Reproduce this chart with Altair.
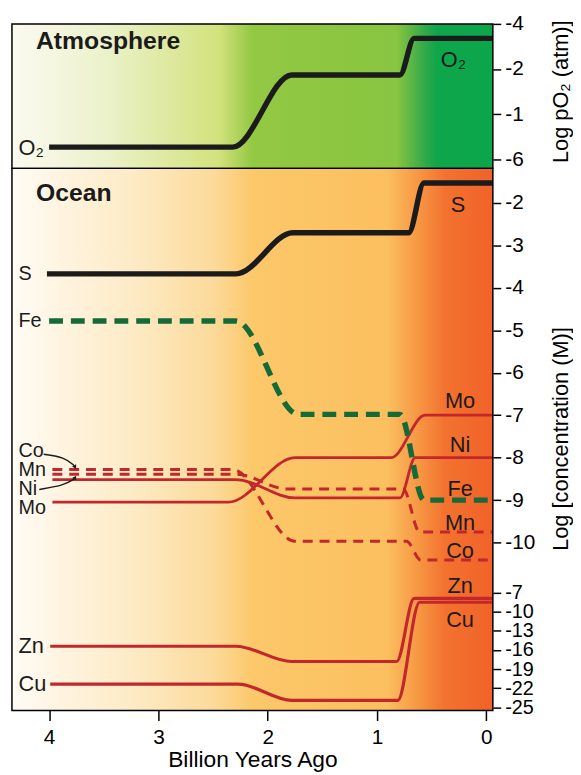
import altair as alt
import pandas as pd

FONT = "Liberation Sans"
BLACK = "#1b1b1b"
RED = "#c1272d"
GREEN = "#156b37"

# ---------------- data ----------------
X_LEFT, X_RIGHT = 4.34, -0.06
x_ticks = [4, 3, 2, 1, 0]

# Atmosphere (axis positions 0..3 carry the printed labels below)
atm_tick_pos = [0, 1, 2, 3]
atm_tick_labels = ["-6", "-1", "-2", "-4"]
o2_age = [4.0, 2.32, 1.78, 0.79, 0.66, -0.06]
o2_val = [0.27, 0.27, 1.87, 1.87, 2.68, 2.68]

# Ocean, upper scale: Log [concentration (M)]
ocean_ticks = [-2, -3, -4, -5, -6, -7, -8, -9, -10]
s_age = [4.02, 2.29, 1.77, 0.71, 0.57, -0.06]
s_val = [-3.67, -3.67, -2.70, -2.70, -1.53, -1.53]
fe_age = [4.0, 2.29, 1.72, 0.79, 0.57, -0.06]
fe_val = [-4.78, -4.78, -6.98, -6.98, -9.0, -9.0]
mo_age = [3.97, 2.36, 1.75, 0.87, 0.56, -0.06]
mo_val = [-9.05, -9.05, -8.0, -8.0, -7.0, -7.0]
ni_age = [3.97, 2.29, 1.75, 0.79, 0.65, -0.06]
ni_val = [-8.52, -8.52, -8.95, -8.95, -8.0, -8.0]
mn_age = [3.97, 2.29, 1.82, 0.76, 0.61, -0.06]
mn_val = [-8.39, -8.39, -8.74, -8.74, -9.75, -9.75]
co_age = [3.97, 2.32, 1.75, 0.73, 0.60, -0.06]
co_val = [-8.28, -8.28, -9.97, -9.97, -10.41, -10.41]

# Ocean, lower scale (Zn, Cu)
low_ticks = [-7, -10, -13, -16, -19, -22, -25]
zn_age = [3.99, 2.29, 1.78, 0.82, 0.66, -0.06]
zn_val = [-15.4, -15.4, -17.8, -17.8, -7.9, -7.9]
cu_age = [3.99, 2.27, 1.78, 0.81, 0.61, -0.06]
cu_val = [-21.35, -21.35, -23.9, -23.9, -8.5, -8.5]

# label arrows
co_arrow_age = [4.05, 3.86, 3.77]
co_arrow_val = [-7.92, -7.99, -8.19]
ni_arrow_age = [4.09, 3.86, 3.77]
ni_arrow_val = [-8.75, -8.65, -8.5]
arrow_head_age = [3.765, 3.765]
arrow_head_val = [-8.21, -8.48]
arrow_head_angle = [150, 30]

# text labels
atm_left_text = ["O₂"]; atm_left_age = [4.28]; atm_left_val = [0.25]
atm_right_text = ["O₂"]; atm_right_age = [0.30]; atm_right_val = [2.2]
up_left_text = ["S", "Fe", "Co", "Mn", "Ni", "Mo"]
up_left_age = [4.28, 4.28, 4.28, 4.28, 4.28, 4.28]
up_left_val = [-3.67, -4.78, -7.84, -8.29, -8.74, -9.19]
up_right_text = ["S", "Mo", "Ni", "Fe", "Mn", "Co"]
up_right_age = [0.26, 0.24, 0.24, 0.24, 0.24, 0.24]
up_right_val = [-2.04, -6.67, -7.71, -8.73, -9.55, -10.21]
low_left_text = ["Zn", "Cu"]; low_left_age = [4.28, 4.28]; low_left_val = [-15.4, -21.3]
low_right_text = ["Zn", "Cu"]; low_right_age = [0.24, 0.24]; low_right_val = [-5.92, -11.3]


def series(name, ages, vals):
    return pd.DataFrame({"series": name, "age": ages, "val": vals, "ord": list(range(len(ages)))})


def labels(texts, ages, vals):
    return pd.DataFrame({"text": texts, "age": ages, "val": vals})


xscale = alt.Scale(domain=[X_LEFT, X_RIGHT], nice=False, zero=False)
xaxis = alt.Axis(values=x_ticks, format="d", tickSize=10, tickWidth=1.5, tickColor="black",
                 domain=False, grid=False, labelFont=FONT, labelFontSize=21, labelColor="black",
                 labelPadding=6, labelFlush=False, title="Billion Years Ago", titleFont=FONT,
                 titleFontSize=23, titleFontWeight="normal", titleColor="black", titlePadding=1)

atm_scale = alt.Scale(domain=[-0.2, 3.0], nice=False, zero=False)
atm_expr = " : ".join(f"datum.value == {p} ? '{l}'" for p, l in zip(atm_tick_pos[:-1], atm_tick_labels[:-1])) + f" : '{atm_tick_labels[-1]}'"


def yaxis(values, title, expr, tx=None, ty=None, lsize=21):
    kw = dict(orient="right", values=values, labelExpr=expr, tickSize=8, tickWidth=1.5,
              tickColor="black", domain=False, grid=False, labelFont=FONT, labelFontSize=lsize,
              labelColor="black", labelPadding=4, labelFlush=False, labelOverlap=False,
              title=title, titleFont=FONT, titleFontSize=22, titleFontWeight="normal",
              titleColor="black", titleAngle=270, titleAlign="center", titleBaseline="middle")
    if tx is not None:
        kw["titleX"] = tx
        kw["titleY"] = ty
    return alt.Axis(**kw)


atm_axis = yaxis(atm_tick_pos, "Log pO₂ (atm)]", atm_expr, 68, 68)
up_scale = alt.Scale(domain=[-13.96, -1.184], nice=False, zero=False)
up_axis = yaxis(ocean_ticks, "Log [concentration (M)]", "'-' + abs(datum.value)", 68, 273)
low_scale = alt.Scale(domain=[-25.5, 59.57], nice=False, zero=False)
low_axis = yaxis(low_ticks, "", "'-' + abs(datum.value)", lsize=20)


def line_layer(df, color, width, yscale, yax, xax, dash=None, interp="monotone"):
    kw = dict(color=color, strokeWidth=width, interpolate=interp, strokeCap="butt", clip=True)
    if dash:
        kw["strokeDash"] = dash
    return alt.Chart(df).mark_line(**kw).encode(
        x=alt.X("age:Q", scale=xscale, axis=xax),
        y=alt.Y("val:Q", scale=yscale, axis=yax),
        detail="series:N", order="ord:Q")


def text_layer(df, yscale, yax, xax, align, size=22, weight="normal"):
    return alt.Chart(df).mark_text(align=align, baseline="middle", font=FONT, fontSize=size,
                                   fontWeight=weight, color=BLACK).encode(
        x=alt.X("age:Q", scale=xscale, axis=xax),
        y=alt.Y("val:Q", scale=yscale, axis=yax),
        text="text:N")


def gradient(stops):
    return alt.LinearGradient(gradient="linear", x1=0, x2=1, y1=0, y2=0,
                              stops=[alt.GradientStop(offset=o, color=c) for o, c in stops])


one = pd.DataFrame({"k": [0]})


def background(stops):
    return alt.Chart(one).mark_rect(fill=gradient(stops)).encode(
        x=alt.value(0), x2=alt.value("width"), y=alt.value(0), y2=alt.value("height"))


def frame():
    return alt.Chart(one).mark_rect(fill="transparent", stroke="black", strokeWidth=1.5).encode(
        x=alt.value(0), x2=alt.value("width"), y=alt.value(0), y2=alt.value("height"))


atm_stops = [(0, "#fbfaf0"), (0.2, "#ebf1c9"), (0.43, "#d3e27d"), (0.5, "#93c843"),
             (0.8, "#88c540"), (0.86, "#2fa94a"), (0.885, "#0ea64b"), (1, "#0ba64b")]
ocean_stops = [(0, "#fffcf6"), (0.1, "#fff4e0"), (0.25, "#fdebc6"), (0.42, "#fcda9a"),
               (0.5, "#fcc86a"), (0.78, "#fbbf5f"), (0.84, "#f79a45"), (0.9, "#f3722f"),
               (1, "#f16229")]

# ---------------- atmosphere panel ----------------
atm = alt.layer(
    background(atm_stops),
    line_layer(series("O2", o2_age, o2_val), BLACK, 5.5, atm_scale, atm_axis, None),
    text_layer(labels(atm_left_text, atm_left_age, atm_left_val), atm_scale, atm_axis, None, "left"),
    text_layer(labels(atm_right_text, atm_right_age, atm_right_val), atm_scale, atm_axis, None, "center"),
    text_layer(labels(["Atmosphere"], [4.12], [2.62]), atm_scale, atm_axis, None, "left", 25, "bold"),
    frame(),
).properties(width=486, height=146)

# ---------------- ocean panel ----------------
heads = pd.DataFrame({"age": arrow_head_age, "val": arrow_head_val, "angle": arrow_head_angle})
upper = alt.layer(
    line_layer(series("S", s_age, s_val), BLACK, 5.5, up_scale, up_axis, xaxis),
    line_layer(pd.concat([series("Mo", mo_age, mo_val), series("Ni", ni_age, ni_val)]),
               RED, 2.8, up_scale, up_axis, xaxis),
    line_layer(pd.concat([series("Mn", mn_age, mn_val), series("Co", co_age, co_val)]),
               RED, 3, up_scale, up_axis, xaxis, dash=[10, 7]),
    line_layer(series("Fe", fe_age, fe_val), GREEN, 5.5, up_scale, up_axis, xaxis, dash=[14, 8]),
    line_layer(pd.concat([series("coA", co_arrow_age, co_arrow_val), series("niA", ni_arrow_age, ni_arrow_val)]),
               BLACK, 1.5, up_scale, up_axis, xaxis, interp="basis"),
    alt.Chart(heads).mark_point(shape="triangle", filled=True, size=22, color=BLACK, opacity=1).encode(
        x=alt.X("age:Q", scale=xscale, axis=xaxis),
        y=alt.Y("val:Q", scale=up_scale, axis=up_axis),
        angle=alt.Angle("angle:Q", scale=None)),
    text_layer(labels(up_left_text, up_left_age, up_left_val), up_scale, up_axis, xaxis, "left", 20),
    text_layer(labels(up_right_text, up_right_age, up_right_val), up_scale, up_axis, xaxis, "center"),
    text_layer(labels(["Ocean"], [4.12], [-1.77]), up_scale, up_axis, xaxis, "left", 25, "bold"),
)

lower = alt.layer(
    line_layer(pd.concat([series("Zn", zn_age, zn_val), series("Cu", cu_age, cu_val)]),
               RED, 3.2, low_scale, low_axis, xaxis),
    text_layer(labels(low_left_text, low_left_age, low_left_val), low_scale, low_axis, xaxis, "left"),
    text_layer(labels(low_right_text, low_right_age, low_right_val), low_scale, low_axis, xaxis, "center"),
)

ocean = alt.layer(background(ocean_stops), upper, lower, frame()).resolve_scale(y="independent").properties(
    width=486, height=548)

chart = alt.vconcat(atm, ocean, spacing=0, bounds="flush").properties(
    padding={"left": 3, "top": 1, "right": 2, "bottom": 0}
).configure_view(strokeWidth=0)

chart.save("out.html", embed_options={"renderer": "svg", "actions": False})
